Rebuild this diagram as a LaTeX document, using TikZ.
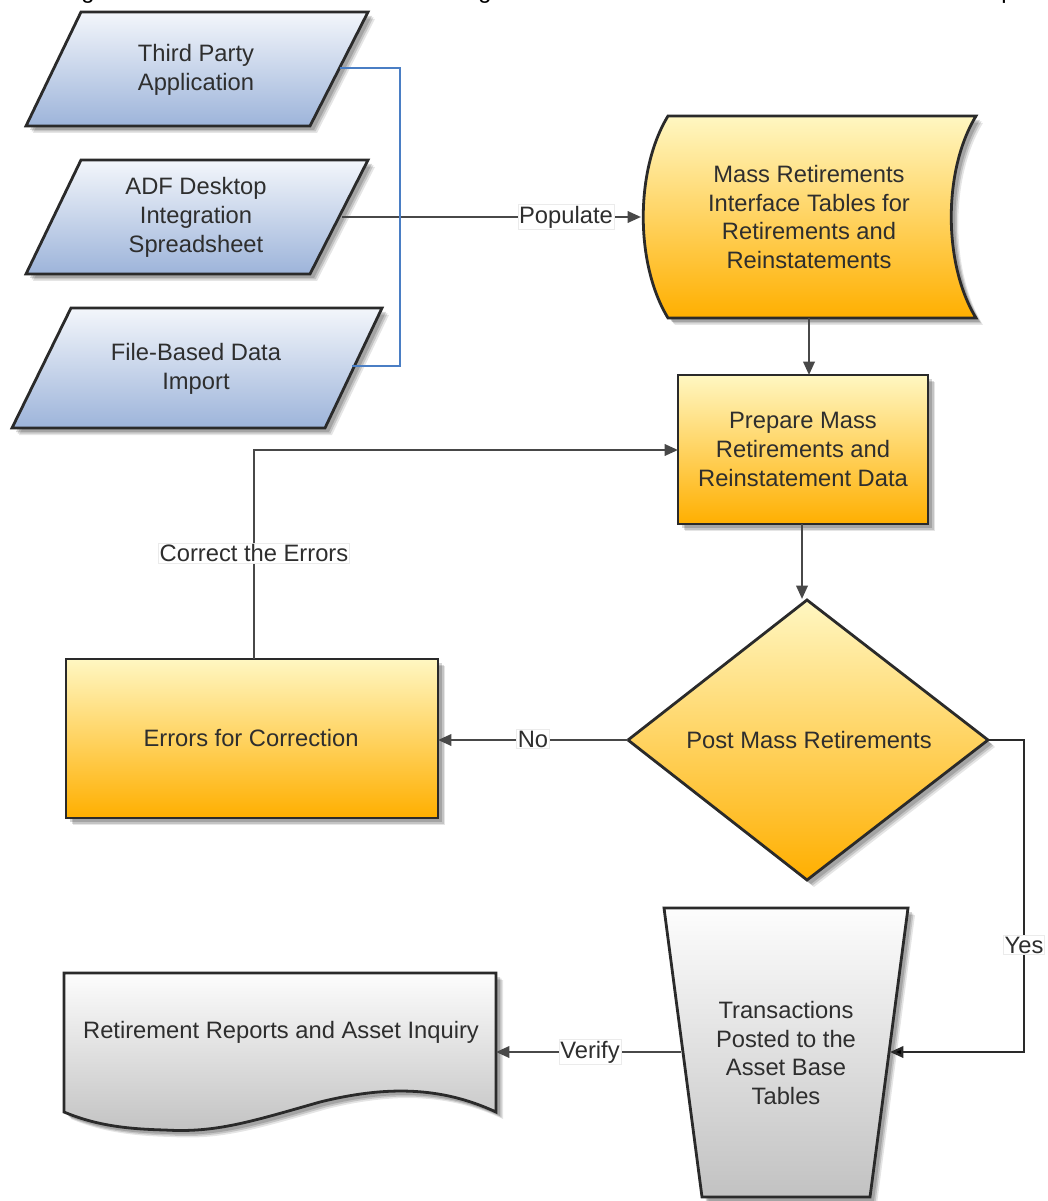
\documentclass[tikz,border=0pt]{standalone}
\usepackage{fontspec}
\setmainfont{Liberation Sans}
\usetikzlibrary{arrows.meta}
\definecolor{txt}{HTML}{2E2E2E}
\definecolor{edge}{HTML}{2A2A2A}
\definecolor{conn}{HTML}{484848}
\definecolor{bluec}{HTML}{4A7EC4}
\definecolor{bluetop}{HTML}{F3F6FB}
\definecolor{bluebot}{HTML}{9DB4DA}
\definecolor{yeltop}{HTML}{FFF7C2}
\definecolor{yelbot}{HTML}{FFAF00}
\definecolor{graytop}{HTML}{FDFDFD}
\definecolor{graybot}{HTML}{C2C2C2}
\tikzset{
  x=0.75pt,y=-0.75pt,
  outline/.style={draw=edge,line width=2.1pt,line join=miter},
  bluefill/.style={outline,top color=bluetop,bottom color=bluebot},
  yellowfill/.style={outline,top color=yeltop,bottom color=yelbot},
  grayfill/.style={outline,top color=graytop,bottom color=graybot},
  lbl/.style={font=\fontsize{17.8}{21.6}\selectfont,text=txt,align=center,inner sep=0pt},
  edgelbl/.style={font=\fontsize{17.8}{21.6}\selectfont,text=txt,fill=white,draw=black!8,line width=.4pt,inner sep=1pt},
  connector/.style={draw=conn,line width=1.8pt,line join=miter},
  tip/.style={-{Triangle[length=10pt,width=8.5pt]}},
}
\newcommand\solid[2]{%
  \fill[black,opacity=.10,shift={(7,7)}] #2;
  \fill[black,opacity=.14,shift={(5.5,5.5)}] #2;
  \fill[black,opacity=.16,shift={(4,4)}] #2;
  \path[#1] #2;
}
\begin{document}
\begin{tikzpicture}
\useasboundingbox (0,0) rectangle (1047,1201);
\fill[white] (0,0) rectangle (1047,1201);
% cropped line of text along the top edge
\begin{scope}
\clip (0,0) rectangle (1047,6);
\node[anchor=south,inner sep=0pt,font=\fontsize{17.8}{20}\selectfont] (capA) at (88,3.5) {g};
\node[anchor=south,inner sep=0pt,font=\fontsize{17.8}{20}\selectfont] (capB) at (485,3.5) {g};
\node[anchor=south,inner sep=0pt,font=\fontsize{17.8}{20}\selectfont] (capC) at (1008,3.5) {p};
\end{scope}
% shapes
\solid{bluefill}{(81,12)--(368,12)--(310,126)--(26,126)--cycle}
\solid{bluefill}{(81,160)--(368,160)--(310,274)--(26,274)--cycle}
\solid{bluefill}{(71,308)--(382,308)--(325,428)--(12,428)--cycle}
\solid{yellowfill}{(668,116)--(976,116) .. controls (943,170) and (943,264) .. (976,318)--(668,318) .. controls (635,264) and (635,170) .. (668,116)--cycle}
\solid{yellowfill}{(678,375)--(928,375)--(928,524)--(678,524)--cycle}
\solid{yellowfill}{(807,600)--(988,740)--(807,880)--(628,740)--cycle}
\solid{yellowfill}{(66,659)--(438,659)--(438,818)--(66,818)--cycle}
\solid{grayfill}{(64,973)--(496,973)--(496,1112) .. controls (440,1086) and (385,1086) .. (320,1102) .. controls (250,1122) and (215,1133) .. (165,1130) .. controls (125,1129) and (95,1125) .. (64,1112)--cycle}
\solid{grayfill}{(664,908)--(908,908)--(870,1197)--(702,1197)--cycle}
% texts
\node[lbl] (third) at (196,69.5) {Third Party\\Application};
\node[lbl] (adf) at (196,217.5) {ADF Desktop\\Integration\\Spreadsheet};
\node[lbl] (file) at (196,368.5) {File-Based Data\\Import};
\node[lbl] (mass) at (809,217) {Mass Retirements\\Interface Tables for\\Retirements and\\Reinstatements};
\node[lbl] (prep) at (803,449.5) {Prepare Mass\\Retirements and\\Reinstatement Data};
\node[lbl] (post) at (809,740.5) {Post Mass Retirements};
\node[lbl] (errs) at (251,738.5) {Errors for Correction};
\node[lbl] (rep) at (281,1032.5) {Retirement Reports and Asset Inquiry};
\node[lbl] (trans) at (786,1053) {Transactions\\Posted to the\\Asset Base\\Tables};
% connection points on the shape outlines
\coordinate (thirdE) at (340,68);
\coordinate (adfE) at (342,217);
\coordinate (fileE) at (352,366);
\coordinate (busA) at (400,68);
\coordinate (busB) at (400,366);
\coordinate (massW) at (641,217);
\coordinate (massS) at (809,318);
\coordinate (prepNa) at (809,375);
\coordinate (prepS) at (802,524);
\coordinate (prepW) at (678,450);
\coordinate (postN) at (802,599);
\coordinate (postW) at (628,740);
\coordinate (postE) at (988,740);
\coordinate (errE) at (438,740);
\coordinate (errN) at (254,659);
\coordinate (cornerA) at (254,450);
\coordinate (cornerB) at (1024,740);
\coordinate (cornerC) at (1024,1052);
\coordinate (transE) at (890,1052);
\coordinate (transW) at (681,1052);
\coordinate (repE) at (496,1052);
% connectors
\draw[connector,tip] (adfE) -- (massW);
\draw[connector,tip] (massS) -- (prepNa);
\draw[connector,tip] (prepS) -- (postN);
\draw[connector,tip] (postW) -- (errE);
\draw[connector,tip] (errN) -- (cornerA) -- (prepW);
\draw[connector,draw=edge,-{Triangle[length=10pt,width=8.5pt,fill=black]}] (postE) -- (cornerB) -- (cornerC) -- (transE);
\draw[connector,tip] (transW) -- (repE);
\draw[draw=bluec,line width=2pt,line join=miter] (thirdE) -- (busA) -- (busB) -- (fileE);
% connector labels
\node[edgelbl] (populate) at (566,217) {Populate};
\node[edgelbl] (correct) at (254,553) {Correct the Errors};
\node[edgelbl] (no) at (533,739) {No};
\node[edgelbl] (yes) at (1024,945) {Yes};
\node[edgelbl] (verify) at (590,1052) {Verify};
\end{tikzpicture}
\end{document}
